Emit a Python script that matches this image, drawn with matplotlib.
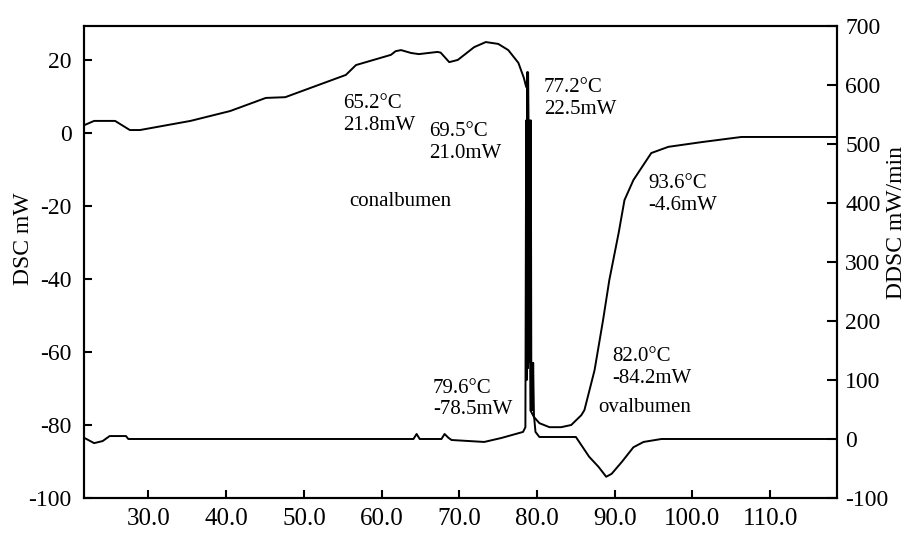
import matplotlib
matplotlib.use("Agg")
import matplotlib.pyplot as plt
from matplotlib.ticker import FormatStrFormatter

plt.rcParams['font.family'] = ['Liberation Serif', 'DejaVu Serif']
plt.rcParams['axes.unicode_minus'] = False

# DSC curve (left axis, mW)
dsc_temp = [21.8, 23.0, 25.7, 27.6, 28.9, 35.4, 40.5, 45.1, 47.6, 55.4, 56.7, 61.2,
            61.8, 62.5, 63.8, 64.8, 67.2, 67.6, 68.7, 69.8, 71.9, 73.4, 75.0, 76.3,
            77.6, 78.3, 78.6, 78.85, 79.0, 79.15, 79.6, 80.3, 81.6, 83.1, 84.4, 85.7,
            86.1, 87.4, 88.5, 89.3, 90.5, 91.25, 92.4, 94.7, 96.9, 101.2, 106.3, 118.6]
dsc_mw = [2.2, 3.3, 3.3, 0.8, 0.8, 3.3, 6.0, 9.6, 9.8, 15.9, 18.6, 21.4,
          22.4, 22.7, 21.9, 21.6, 22.2, 22.0, 19.4, 20.0, 23.5, 24.9, 24.4, 22.7,
          19.2, 15.1, 12.6, 16.6, -20.0, -76.0, -77.8, -79.5, -80.6, -80.6, -80.0, -77.3,
          -75.9, -65.0, -51.2, -40.3, -27.4, -18.4, -12.9, -5.5, -3.8, -2.5, -1.1, -1.1]

# DDSC curve (right axis, mW/min)
ddsc_temp = [21.8, 23.0, 24.1, 25.0, 27.1, 27.4, 64.1, 64.5, 64.9, 67.7, 68.1, 68.6,
             69.0, 73.2, 75.4, 78.2, 78.5, 78.6, 78.68, 78.75, 78.82, 78.9, 78.98, 79.05,
             79.12, 79.2, 79.27, 79.35, 79.42, 79.5, 79.6, 79.8, 80.3, 85.0, 86.7, 87.9,
             88.9, 89.6, 90.9, 92.4, 93.7, 96.0, 118.6]
ddsc_val = [1.5, -7.0, -3.5, 5.0, 5.0, 0.0, 0.0, 8.5, 0.0, 0.0, 8.5, 2.0,
            -1.7, -5.0, 1.7, 12.0, 20.0, 540.0, 100.0, 622.0, 120.0, 540.0, 130.0, 540.0,
            130.0, 540.0, 49.0, 129.0, 49.0, 129.0, 40.0, 12.0, 3.4, 3.4, -30.0, -47.0,
            -64.0, -59.0, -39.0, -14.0, -5.0, 0.0, 0.0]

x_ticks = [30, 40, 50, 60, 70, 80, 90, 100, 110]
left_ticks = [-100, -80, -60, -40, -20, 0, 20]
right_ticks = [-100, 0, 100, 200, 300, 400, 500, 600, 700]

# annotations: (text, x, y on left axis)
notes = [("65.2°C\n21.8mW", 55.1, 5.0),
         ("69.5°C\n21.0mW", 66.1, -2.7),
         ("conalbumen", 55.8, -18.9),
         ("77.2°C\n22.5mW", 80.9, 9.4),
         ("93.6°C\n-4.6mW", 94.3, -16.9),
         ("79.6°C\n-78.5mW", 66.6, -72.9),
         ("82.0°C\n-84.2mW", 89.7, -64.3),
         ("ovalbumen", 87.9, -75.1)]

fig = plt.figure(figsize=(9.09, 5.34), dpi=100)
ax = fig.add_axes([84/909, 36/534, 753/909, 472/534])
ax2 = ax.twinx()

ax.plot(dsc_temp, dsc_mw, color='black', lw=1.4)
ax2.plot(ddsc_temp, ddsc_val, color='black', lw=1.4)

ax.set_xlim(21.7, 118.6)
ax.set_ylim(-100, 29.3)
ax2.set_ylim(-100, 700)

ax.set_xticks(x_ticks)
ax.xaxis.set_major_formatter(FormatStrFormatter('%.1f'))
ax.set_yticks(left_ticks)
ax2.set_yticks(right_ticks)

for sp in ax.spines.values():
    sp.set_linewidth(1.5)
for sp in ax2.spines.values():
    sp.set_linewidth(1.5)

ax.tick_params(axis='x', direction='in', length=6, width=1.5, labelsize=18, pad=7, top=False)
ax.tick_params(axis='y', direction='in', length=6, width=1.5, labelsize=17, pad=9, right=False)
ax2.tick_params(axis='y', direction='in', length=7, width=1.5, labelsize=17, pad=6)

fig.text(24/909, 1 - 239/534, "DSC mW", fontsize=17, rotation=90, ha='center', va='center')
fig.text(897/909, 1 - 223/534, "DDSC mW/min", fontsize=17, rotation=90, ha='center', va='center')

for txt, x, y in notes:
    ax.text(x, y, txt, fontsize=15, ha='left', va='center', linespacing=1.2)

fig.savefig("out.png", dpi=100)
